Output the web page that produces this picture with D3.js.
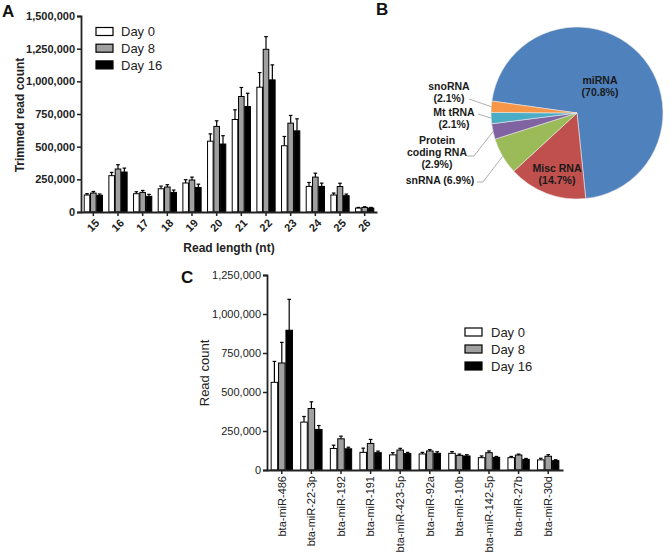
<!DOCTYPE html>
<html><head><meta charset="utf-8">
<script src="https://cdn.jsdelivr.net/npm/d3@7"></script>
<style>
body{margin:0;background:#fff;}
svg{font-family:"Liberation Sans",Arial,sans-serif;}
</style></head>
<body><svg id="c" width="670" height="559"></svg>
<script>
// ---------- Panel A data ----------
const readLengths = ["15","16","17","18","19","20","21","22","23","24","25","26"];
const seriesNames = ["Day 0","Day 8","Day 16"];
const aDay0  = [130000,278000,140000,178000,222000,542000,708000,955000,507000,196000,130000,30000];
const aDay8  = [145000,329000,150000,191000,245000,655000,884000,1245000,680000,267000,195000,35000];
const aDay16 = [128000,306000,120000,150000,188000,520000,807000,1011000,621000,196000,125000,30000];
const aErr0  = [10000,25000,15000,20000,25000,56000,74000,112000,71000,30000,15000,5000];
const aErr8  = [12000,33000,15000,18000,22000,43000,69000,97000,59000,30000,25000,5000];
const aErr16 = [10000,30000,15000,18000,25000,64000,102000,115000,92000,25000,12000,5000];
const aTicks = [0,250000,500000,750000,1000000,1250000,1500000];

// ---------- Panel B data ----------
const pieNames  = ["miRNA","Misc RNA","snRNA","Protein coding RNA","Mt tRNA","snoRNA"];
const pieValues = [70.8,14.7,6.9,2.9,2.1,2.1];
const pieColors = ["#4f81bd","#c0504d","#9bbb59","#8064a2","#4bacc6","#f79646"];

// ---------- Panel C data ----------
const mirnas = ["bta-miR-486","bta-miR-22-3p","bta-miR-192","bta-miR-191","bta-miR-423-5p","bta-miR-92a","bta-miR-10b","bta-miR-142-5p","bta-miR-27b","bta-miR-30d"];
const cDay0  = [562000,307000,138000,113000,97000,103000,107000,79000,79000,65000];
const cDay8  = [686000,394000,200000,170000,128000,122000,94000,111000,96000,88000];
const cDay16 = [896000,260000,136000,111000,105000,107000,90000,81000,68000,60000];
const cErr0  = [134000,36000,21000,27000,14000,10000,11000,11000,8000,10000];
const cErr8  = [132000,43000,17000,26000,11000,9000,8000,11000,6000,10000];
const cErr16 = [198000,25000,10000,10000,8000,10000,8000,6000,6000,6000];
const cTicks = [0,250000,500000,750000,1000000,1250000];

const fills = ["#ffffff","#a0a0a0","#000000"];
const svg = d3.select("#c");
const fmt = d3.format(",");

function barPanel(g, cats, vals, errs, x0r, yr, yMax, ticks, pad, opts){
  const x0 = d3.scaleBand().domain(cats).range(x0r).paddingInner(pad).paddingOuter(pad/2);
  const x1 = d3.scaleBand().domain([0,1,2]).range([0,x0.bandwidth()]).paddingInner(0.12);
  const y = d3.scaleLinear().domain([0,yMax]).range(yr);
  cats.forEach((c,i)=>{
    [0,1,2].forEach(s=>{
      const v = vals[s][i], e = errs[s][i];
      const bx = x0(c)+x1(s), bw = x1.bandwidth(), cx = bx+bw/2;
      g.append("line").attr("x1",cx).attr("x2",cx).attr("y1",y(v)).attr("y2",y(v+e))
        .attr("stroke","#000").attr("stroke-width",1.2);
      g.append("line").attr("x1",cx-1.8).attr("x2",cx+1.8).attr("y1",y(v+e)).attr("y2",y(v+e))
        .attr("stroke","#000").attr("stroke-width",1.2);
      g.append("rect").attr("x",bx).attr("y",y(v)).attr("width",bw).attr("height",y(0)-y(v))
        .attr("fill",fills[s]).attr("stroke","#000").attr("stroke-width",1);
    });
  });
  const ya = g.append("g").attr("transform",`translate(${x0r[0]},0)`)
    .call(d3.axisLeft(y).tickValues(ticks).tickFormat(fmt).tickSize(4).tickPadding(2));
  ya.select(".domain").attr("stroke","#222").attr("stroke-width",1.8);
  ya.selectAll(".tick line").attr("stroke","#222").attr("stroke-width",1.5);
  ya.selectAll("text").attr("font-size",opts.tickFont).attr("font-weight",opts.tickWeight).attr("fill","#222")
    .attr("font-family","Liberation Sans, Arial, sans-serif");
  const xa = g.append("g").attr("transform",`translate(0,${yr[0]})`)
    .call(d3.axisBottom(x0).tickSize(4).tickSizeOuter(0).tickFormat(()=>""));
  xa.select(".domain").attr("stroke","#222").attr("stroke-width",1.8);
  xa.selectAll(".tick line").attr("stroke","#222").attr("stroke-width",1.5);
  return {x0,y};
}

// ---------- Panel A ----------
const gA = svg.append("g");
const A = barPanel(gA, readLengths, [aDay0,aDay8,aDay16], [aErr0,aErr8,aErr16],
  [81,377],[212,16],1500000,aTicks,0.26,{tickFont:"11px",tickWeight:"bold"});
readLengths.forEach(c=>{
  const cx = A.x0(c)+A.x0.bandwidth()/2;
  gA.append("text").attr("transform",`translate(${cx+4},${221}) rotate(-45)`)
    .attr("text-anchor","end").attr("dy","0.35em").attr("font-size","11px").attr("font-weight","bold")
    .attr("fill","#222").text(c);
});
gA.append("text").attr("x",229).attr("y",252).attr("text-anchor","middle")
  .attr("font-size","12px").attr("font-weight","bold").attr("fill","#222").text("Read length (nt)");
gA.append("text").attr("transform","translate(24,115) rotate(-90)").attr("text-anchor","middle")
  .attr("font-size","12px").attr("font-weight","bold").attr("fill","#222").text("Trimmed read count");
gA.append("text").attr("x",2).attr("y",17).attr("font-size","17px").attr("font-weight","bold").attr("fill","#111").text("A");
seriesNames.forEach((n,i)=>{
  gA.append("rect").attr("x",96).attr("y",27.5+i*16.7).attr("width",17).attr("height",8)
    .attr("fill",fills[i]).attr("stroke","#000").attr("stroke-width",1.2);
  gA.append("text").attr("x",121).attr("y",36.3+i*16.7).attr("font-size","13px").attr("fill","#222").text(n);
});

// ---------- Panel B ----------
const gB = svg.append("g");
gB.append("text").attr("x",376).attr("y",15).attr("font-size","17px").attr("font-weight","bold").attr("fill","#111").text("B");
const cxP = 577, cyP = 113, rP = 86;
const startA = -82*Math.PI/180;
const pie = d3.pie().sort(null).startAngle(startA).endAngle(startA+2*Math.PI)(pieValues);
const arc = d3.arc().innerRadius(0).outerRadius(rP);
const pg = gB.append("g").attr("transform",`translate(${cxP},${cyP})`);
pg.selectAll("path").data(pie).join("path").attr("d",arc)
  .attr("fill",(d,i)=>pieColors[i]).attr("stroke","#e8e8e8").attr("stroke-width",0.6);
function lbl(lines,x,y,anchor){
  lines.forEach((t,k)=>gB.append("text").attr("x",x).attr("y",y+k*12).attr("text-anchor",anchor||"middle")
    .attr("font-size","10.5px").attr("font-weight","bold").attr("fill","#1a1a1a").text(t));
}
lbl(["miRNA","("+pieValues[0]+"%)"],600,84);
lbl(["Misc RNA","("+pieValues[1]+"%)"],557,172);
lbl(["snoRNA","("+pieValues[5]+"%)"],449,90);
lbl(["Mt tRNA","("+pieValues[4]+"%)"],454,116);
lbl(["Protein","coding RNA","("+pieValues[3]+"%)"],437,144);
lbl(["snRNA ("+pieValues[2]+"%)"],440,184);
function leader(pts){
  gB.append("polyline").attr("points",pts.map(p=>p.join(",")).join(" "))
    .attr("fill","none").attr("stroke","#999").attr("stroke-width",0.8);
}
function edge(i,f){const d=pie[i];const a=d.startAngle+(d.endAngle-d.startAngle)*f;return [cxP+rP*Math.sin(a),cyP-rP*Math.cos(a)];}
leader([[469,99],edge(5,0.5)]);
leader([[478,114],edge(4,0.5)]);
leader([[467,156],[474,156],edge(3,0.5)]);
leader([[477,182],[483,182],edge(2,0.5)]);

// ---------- Panel C ----------
const gC = svg.append("g");
const C = barPanel(gC, mirnas, [cDay0,cDay8,cDay16], [cErr0,cErr8,cErr16],
  [267,563],[470,275],1250000,cTicks,0.28,{tickFont:"11px",tickWeight:"normal"});
mirnas.forEach(c=>{
  const cx = C.x0(c)+C.x0.bandwidth()/2;
  gC.append("text").attr("transform",`translate(${cx},${476}) rotate(-90)`)
    .attr("text-anchor","end").attr("dy","0.35em").attr("font-size","11px").attr("fill","#222").text(c);
});
gC.append("text").attr("transform","translate(209,373) rotate(-90)").attr("text-anchor","middle")
  .attr("font-size","13px").attr("fill","#222").text("Read count");
gC.append("text").attr("x",181).attr("y",283).attr("font-size","17px").attr("font-weight","bold").attr("fill","#111").text("C");
seriesNames.forEach((n,i)=>{
  gC.append("rect").attr("x",465).attr("y",328+i*17).attr("width",17).attr("height",8)
    .attr("fill",fills[i]).attr("stroke","#000").attr("stroke-width",1.2);
  gC.append("text").attr("x",491).attr("y",337+i*17).attr("font-size","13px").attr("fill","#222").text(n);
});
</script></body></html>
